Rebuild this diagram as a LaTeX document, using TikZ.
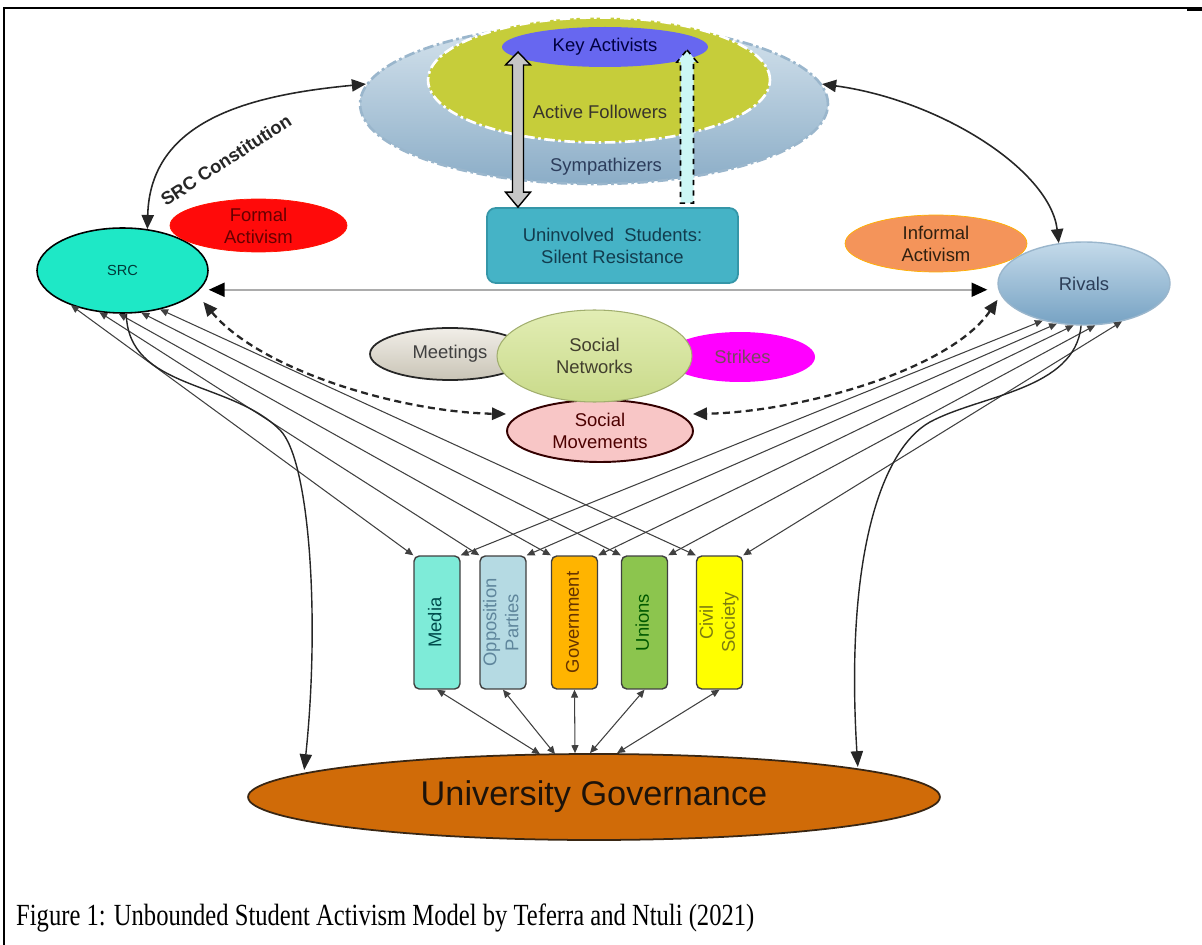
\documentclass[tikz,border=0pt]{standalone}
\usepackage{fontspec}
\setmainfont{Liberation Sans}
\newfontfamily\capfont[FakeStretch=0.8]{Liberation Serif}
\usetikzlibrary{calc}
\usetikzlibrary{positioning}
\usetikzlibrary{shapes.geometric}
\usetikzlibrary{arrows.meta}

\definecolor{symplight}{HTML}{D5E3ED}
\definecolor{sympblue}{HTML}{8BADC7}
\definecolor{sympedge}{HTML}{9AB6CC}
\definecolor{symptext}{HTML}{2C3D5C}
\definecolor{followgreen}{HTML}{C6CD3A}
\definecolor{keyblue}{HTML}{6767F0}
\definecolor{uninvteal}{HTML}{45B3C6}
\definecolor{uninvedge}{HTML}{3596A8}
\definecolor{uninvtext}{HTML}{123C4E}
\definecolor{cyanpale}{HTML}{CCF7F5}
\definecolor{srcaqua}{HTML}{1EE8C6}
\definecolor{formalred}{HTML}{FF0A0A}
\definecolor{informalorange}{HTML}{F4945A}
\definecolor{rivaltop}{HTML}{C4DAEA}
\definecolor{rivalbot}{HTML}{76A2C3}
\definecolor{rivaltext}{HTML}{2C3E58}
\definecolor{nettop}{HTML}{E2EDB4}
\definecolor{netbot}{HTML}{C9DA8A}
\definecolor{meettop}{HTML}{F1EEE8}
\definecolor{meetbot}{HTML}{C9C4B6}
\definecolor{strikemag}{HTML}{FF00FF}
\definecolor{movepink}{HTML}{F8C6C6}
\definecolor{mediaaqua}{HTML}{7EEBD8}
\definecolor{oppblue}{HTML}{B5DAE3}
\definecolor{opptext}{HTML}{5F869C}
\definecolor{govamber}{HTML}{FFB400}
\definecolor{uniongreen}{HTML}{8CC54E}
\definecolor{civilyellow}{HTML}{FFFF00}
\definecolor{civiltext}{HTML}{7C7C10}
\definecolor{univbrown}{HTML}{D06B08}

\newcommand{\vlabel}[1]{\rotatebox{90}{\begin{tabular}{@{}c@{}}#1\end{tabular}}}

\begin{document}
\begin{tikzpicture}[x=0.02cm, y=-0.02cm, >={Triangle[length=4.5pt, width=4pt]}, font=\fontsize{10.5}{12.5}\selectfont]
    \tikzstyle{oval}=[ellipse, inner sep=0pt, align=center]
    \tikzstyle{sector}=[rectangle, rounded corners=3pt, draw=black!75, line width=0.8pt, minimum width=0.92cm, minimum height=2.66cm, inner sep=0pt]
    \tikzstyle{fan}=[<->, draw=black!75, line width=0.6pt]
    \tikzstyle{bigtip}=[>={Triangle[length=8pt, width=7pt]}]
    \tikzstyle{curvelink}=[<->, bigtip, draw=black!85, line width=0.9pt]
    \tikzstyle{dashlink}=[<->, bigtip, draw=black!85, line width=1.3pt, dash pattern=on 4pt off 2.5pt]

    \useasboundingbox (0,0) rectangle (1202,945);
    \draw[line width=1.1pt] (4,945) -- (4,8) -- (1199,8);
    \draw[line width=1.8pt] (1187,9) -- (1202,9);

    % student body
    \node[oval, minimum width=9.36cm, minimum height=3.2cm, top color=symplight, bottom color=sympblue, draw=sympedge, line width=1.5pt, dash pattern=on 6pt off 2pt on 1.5pt off 2pt] (sympath) at (594,104) {};
    \node[oval, minimum width=6.84cm, minimum height=2.5cm, fill=followgreen, draw=white, line width=1.5pt, dash pattern=on 6pt off 2pt on 1.5pt off 2pt] (followers) at (599,80) {};
    \node[oval, minimum width=4.12cm, minimum height=0.8cm, fill=keyblue, text=black!75!blue] (key) at (605,47) {Key Activists};
    \node[text=black!80!olive] (followtext) at (600,112) {Active Followers};
    \node[text=symptext] (symptext) at (606,167) {Sympathizers};
    \node[rectangle, rounded corners=5pt, minimum width=5.02cm, minimum height=1.5cm, fill=uninvteal, draw=uninvedge, line width=1pt, align=center, text=uninvtext] (uninvolved) at (612.5,245.5) {Uninvolved\ \ Students:\\Silent Resistance};

    \coordinate (gtop) at (518,52);
    \coordinate (gbot) at (gtop |- uninvolved.north);
    \draw[fill=gray!45, draw=black, line width=0.8pt] (gtop) -- ++(12.5,13) -- ++(-7,0) -- ($(gbot)+(5.5,-15)$) -- ++(7,0) -- (gbot) -- ++(-12.5,-15) -- ++(7,0) -- ($(gtop)+(-5.5,13)$) -- ++(-7,0) -- cycle;
    \coordinate (ctop) at (687,50);
    \coordinate (cbot) at ($(ctop |- uninvolved.north)+(0,-4)$);
    \draw[fill=cyanpale, draw=black, dashed, line width=0.9pt] (ctop) -- ++(10,12) -- ++(-3.5,0) -- ($(cbot)+(6.5,0)$) -- ++(-13,0) -- ($(ctop)+(-6.5,12)$) -- ++(-3.5,0) -- cycle;

    % actors
    \node[oval, minimum width=3.42cm, minimum height=1.7cm, fill=srcaqua, draw=black, line width=0.9pt, text=black!55!teal, font=\fontsize{8.3}{10}\selectfont] (src) at (122.5,270.5) {SRC};
    \node[oval, minimum width=3.54cm, minimum height=1.06cm, fill=formalred, draw=red!85!orange, text=black!60!red] (formal) at (258.5,225.5) {Formal\\Activism};
    \node[oval, minimum width=3.64cm, minimum height=1.14cm, fill=informalorange, draw=orange!60!yellow, text=black!75!brown] (informal) at (936,243.5) {Informal\\Activism};
    \node[oval, minimum width=3.44cm, minimum height=1.66cm, top color=rivaltop, bottom color=rivalbot, draw=sympedge, line width=0.8pt, text=rivaltext] (rivals) at (1084,283.5) {Rivals};

    % middle
    \node[oval, minimum width=3.2cm, minimum height=1.04cm, top color=meettop, bottom color=meetbot, draw=black!85, line width=1pt, text=black!75] (meetings) at (450,354) {Meetings};
    \node[oval, minimum width=3.0cm, minimum height=1.0cm, fill=strikemag, text=black!60!magenta] (strikes) at (740,357) {\hspace*{0.1cm}Strikes};
    \node[oval, minimum width=3.72cm, minimum height=1.24cm, fill=movepink, draw=black!80!red, line width=1.1pt, text=black!70!red] (movements) at (600,431) {Social\\Movements};
    \node[oval, minimum width=3.9cm, minimum height=1.84cm, top color=nettop, bottom color=netbot, draw=netbot!80!black, line width=0.6pt, text=black!70!olive] (networks) at (594.5,356) {Social\\Networks};

    % sectors
    \node[sector, fill=mediaaqua, text=black!40!teal] (media) at (437,622.5) {\vlabel{Media}};
    \node[sector, fill=oppblue, text=opptext] (opposition) at (503,622.5) {\vlabel{Opposition\\Parties}};
    \node[sector, fill=govamber, text=black!60!orange] (government) at (574.5,622.5) {\vlabel{Government}};
    \node[sector, fill=uniongreen, text=black!65!green] (unions) at (644.5,622.5) {\vlabel{Unions}};
    \node[sector, fill=civilyellow, text=civiltext] (civil) at (719.5,622.5) {\vlabel{Civil\\Society}};

    \node[oval, minimum width=13.84cm, minimum height=1.72cm, fill=univbrown, draw=black!70!brown, line width=1pt, text=black!85!brown, font=\fontsize{19.5}{22}\selectfont] (governance) at (594,797) {University Governance};

    % links
    \draw[curvelink] (src.59) .. controls (150,120) and (250,95) .. (sympath.175);
    \node[rotate=33, text=black!85, font=\bfseries\fontsize{10.4}{12}\selectfont] (constitution) at (226,160) {SRC Constitution};
    \draw[curvelink] (sympath.5) .. controls (940,100) and (1050,170) .. (rivals.122);
    \draw[<->, >={Triangle[length=9pt, width=8pt, color=black]}, draw=gray!65, line width=1pt, shorten <=0.18cm, shorten >=0.2cm] (src.-14) -- (rivals.west |- src.-14);
    \draw[dashlink] ($(src.340)+(11,6)$) .. controls (260,370) and (400,412) .. ($(movements.west)+(0,-17)$);
    \draw[dashlink] ($(rivals.190)+(-5,2)$) .. controls (950,370) and (800,412) .. ($(movements.east)+(-1,-17)$);

    \draw[fan] (src.214) -- (media.north west);
    \draw[fan] (src.241) -- (opposition.north west);
    \draw[fan] (src.265) -- (government.north west);
    \draw[fan] (src.294) -- (unions.north west);
    \draw[fan] (src.314) -- (civil.north west);
    \draw[fan] (rivals.222) -- (media.north east);
    \draw[fan] (rivals.236) -- (opposition.north east);
    \draw[fan] (rivals.256) -- (government.north east);
    \draw[fan] (rivals.285) -- (unions.north east);
    \draw[fan] (rivals.315) -- (civil.north east);

    \draw[fan] (media.south) -- ($(governance.north)+(-54,1)$);
    \draw[fan] (opposition.south) -- ($(governance.north)+(-39,1)$);
    \draw[fan] (government.south) -- ($(governance.north)+(-19,0)$);
    \draw[fan] (unions.south) -- ($(governance.north)+(-4,0)$);
    \draw[fan] (civil.south) -- ($(governance.north)+(23,0)$);

    \draw[->, >={Triangle[length=9pt, width=7pt]}, draw=black!85, line width=0.8pt] (src.275) .. controls (128,390) and (230,380) .. (280,430) .. controls (310,460) and (320,620) .. ($(governance.west)+(57,-27)$);
    \draw[->, >={Triangle[length=9pt, width=7pt]}, draw=black!85, line width=0.8pt] (rivals.266) .. controls (1075,390) and (980,395) .. (930,422) .. controls (880,450) and (845,560) .. ($(governance.east)+(-83,-30)$);

    \node[anchor=base west, font=\capfont\fontsize{17.5}{20}\selectfont] (caption) at (10,925) {Figure 1: Unbounded Student Activism Model by Teferra and Ntuli (2021)};
\end{tikzpicture}
\end{document}
